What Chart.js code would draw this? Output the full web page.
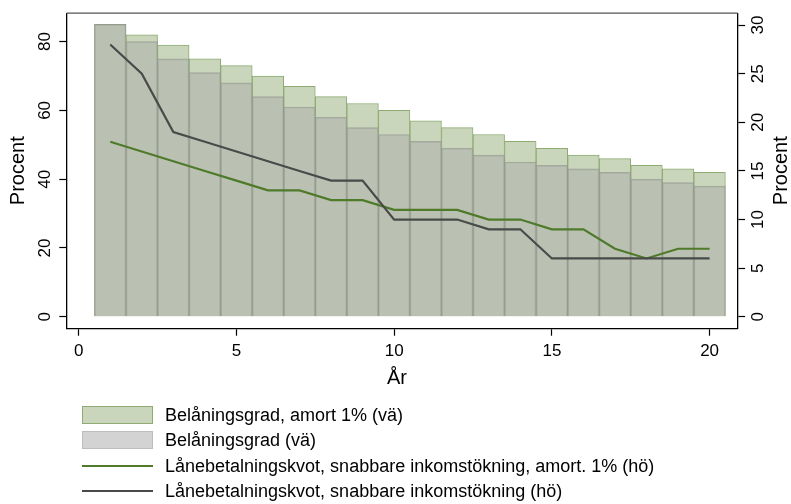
<!DOCTYPE html>
<html>
<head>
<meta charset="utf-8">
<script src="https://cdn.jsdelivr.net/npm/chart.js@4.4.1/dist/chart.umd.min.js"></script>
<style>
  body { margin: 0; background: #fff; }
  #wrap { position: relative; width: 791px; height: 504px; }
  #legend { position: absolute; left: 82px; top: 402px; font: 18px "Liberation Sans", Arial, sans-serif; color: #000; }
  .row { display: flex; align-items: center; height: 25.5px; line-height: 20px; }
  .sym { width: 71px; margin-right: 12px; box-sizing: border-box; flex: none; }
</style>
</head>
<body>
<div id="wrap">
  <canvas id="myChart" width="791" height="504"></canvas>
  <div id="legend"></div>
</div>
<script>
// År 1-20
const years = [1, 2, 3, 4, 5, 6, 7, 8, 9, 10, 11, 12, 13, 14, 15, 16, 17, 18, 19, 20];
// Belåningsgrad (vänster axel)
const belaningAmort = [85, 82, 79, 75, 73, 70, 67, 64, 62, 60, 57, 55, 53, 51, 49, 47, 46, 44, 43, 42];
const belaning = [85, 80, 75, 71, 68, 64, 61, 58, 55, 53, 51, 49, 47, 45, 44, 43, 42, 40, 39, 38];
// Lånebetalningskvot (höger axel)
const kvotAmort = [18, 17, 16, 15, 14, 13, 13, 12, 12, 11, 11, 11, 10, 10, 9, 9, 7, 6, 7, 7];
const kvot = [28, 25, 19, 18, 17, 16, 15, 14, 14, 10, 10, 10, 9, 9, 6, 6, 6, 6, 6, 6];
// Axlar
const xTicks = [0, 5, 10, 15, 20];
const leftTicks = [0, 20, 40, 60, 80];
const rightTicks = [0, 5, 10, 15, 20, 25, 30];

const FONT = '"Liberation Sans", Arial, sans-serif';
const pts = vals => years.map((x, i) => ({ x: x, y: vals[i] }));

// Ram runt ritytan, roterade y-etiketter och axeltitlar
const frameAndLabels = {
  id: 'frameAndLabels',
  afterDraw(chart) {
    const ctx = chart.ctx;
    const a = chart.chartArea;
    ctx.save();
    ctx.strokeStyle = '#555';
    ctx.lineWidth = 1.3;
    ctx.beginPath();
    ctx.moveTo(a.left, a.top);
    ctx.lineTo(a.right, a.top);
    ctx.stroke();

    ctx.fillStyle = '#000';
    ctx.textAlign = 'center';
    ctx.textBaseline = 'middle';
    ctx.font = '17px ' + FONT;
    [['yL', a.left - 21.7], ['yR', a.right + 20.6]].forEach(([id, x]) => {
      const s = chart.scales[id];
      s.ticks.forEach(t => {
        ctx.save();
        ctx.translate(x, s.getPixelForValue(t.value));
        ctx.rotate(-Math.PI / 2);
        ctx.fillText(t.label, 0, 0);
        ctx.restore();
      });
    });

    ctx.font = '20px ' + FONT;
    const midY = (a.top + a.bottom) / 2;
    [18, a.right + 44].forEach(x => {
      ctx.save();
      ctx.translate(x, midY);
      ctx.rotate(-Math.PI / 2);
      ctx.fillText('Procent', 0, 0);
      ctx.restore();
    });
    ctx.fillText('År', 397, 378);
    ctx.restore();
  }
};

const ctx = document.getElementById('myChart').getContext('2d');
const myChart = new Chart(ctx, {
  type: 'bar',
  data: {
    datasets: [
      {
        type: 'bar', label: 'Belåningsgrad, amort 1% (vä)', data: pts(belaningAmort), yAxisID: 'yL',
        backgroundColor: '#c9d6bb', borderColor: '#8dab72', borderWidth: 1, order: 3,
        legendFill: '#c9d6bb', legendBorder: '#8dab72'
      },
      {
        type: 'bar', label: 'Belåningsgrad (vä)', data: pts(belaning), yAxisID: 'yL',
        backgroundColor: 'rgba(176,178,172,0.6)', borderColor: 'rgba(150,153,145,0.75)', borderWidth: 1, order: 2,
        legendFill: '#d3d3d3', legendBorder: '#bdbdbd'
      },
      {
        type: 'line', label: 'Lånebetalningskvot, snabbare inkomstökning, amort. 1% (hö)', data: pts(kvotAmort), yAxisID: 'yR',
        borderColor: '#4f7a2a', borderWidth: 2.2, pointRadius: 0, tension: 0, order: 1
      },
      {
        type: 'line', label: 'Lånebetalningskvot, snabbare inkomstökning (hö)', data: pts(kvot), yAxisID: 'yR',
        borderColor: '#4a4a4a', borderWidth: 2.2, pointRadius: 0, tension: 0, order: 0
      }
    ]
  },
  options: {
    responsive: false,
    animation: false,
    layout: { padding: { top: 11, left: 0, right: 0, bottom: 0 } },
    datasets: { bar: { grouped: false, barPercentage: 1, categoryPercentage: 1 } },
    plugins: { legend: { display: false }, tooltip: { enabled: false } },
    scales: {
      x: {
        type: 'linear', position: 'bottom', min: -0.38, max: 20.89, offset: false,
        afterBuildTicks: s => { s.ticks = xTicks.map(v => ({ value: v })); },
        ticks: { color: '#000', font: { size: 17, family: FONT }, padding: 5, maxRotation: 0 },
        grid: { offset: false, drawOnChartArea: false, tickLength: 7.4, tickColor: '#000', tickWidth: 1.2 },
        border: { display: true, color: '#000', width: 1.3 },
        afterFit: s => { s.height = 504 - 328.3; }
      },
      yL: {
        type: 'linear', position: 'left', min: -3.35, max: 88.26,
        afterBuildTicks: s => { s.ticks = leftTicks.map(v => ({ value: v })); },
        ticks: { color: 'rgba(0,0,0,0)', font: { size: 17, family: FONT } },
        grid: { drawOnChartArea: false, tickLength: 7.4, tickColor: '#000', tickWidth: 1.2 },
        border: { display: true, color: '#000', width: 1.3 },
        afterFit: s => { s.width = 66.7; }
      },
      yR: {
        type: 'linear', position: 'right', min: -1.18, max: 31.22,
        afterBuildTicks: s => { s.ticks = rightTicks.map(v => ({ value: v })); },
        ticks: { color: 'rgba(0,0,0,0)', font: { size: 17, family: FONT } },
        grid: { drawOnChartArea: false, tickLength: 7.4, tickColor: '#000', tickWidth: 1.2 },
        border: { display: true, color: '#000', width: 1.3 },
        afterFit: s => { s.width = 791 - 737.7; }
      }
    }
  },
  plugins: [frameAndLabels]
});

// Teckenförklaring under diagrammet
const legend = document.getElementById('legend');
myChart.data.datasets.forEach(ds => {
  const row = document.createElement('div');
  row.className = 'row';
  const sym = document.createElement('div');
  sym.className = 'sym';
  if (ds.type === 'bar') {
    sym.style.height = '18px';
    sym.style.background = ds.legendFill;
    sym.style.border = '1px solid ' + ds.legendBorder;
  } else {
    sym.style.height = '2px';
    sym.style.background = ds.borderColor;
  }
  const txt = document.createElement('span');
  txt.textContent = ds.label;
  row.appendChild(sym);
  row.appendChild(txt);
  legend.appendChild(row);
});
</script>
</body>
</html>
